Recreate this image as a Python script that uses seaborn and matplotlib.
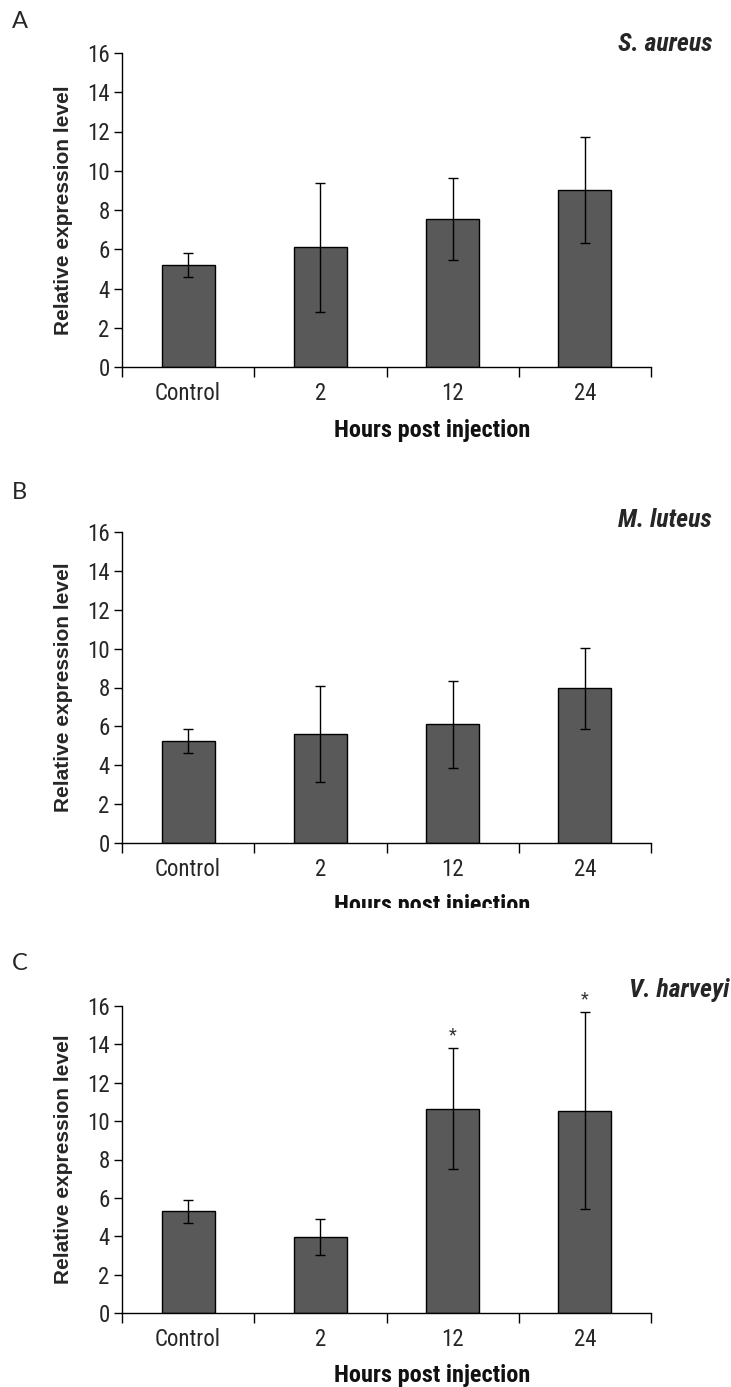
import numpy as np
import pandas as pd
import matplotlib
matplotlib.use("Agg")
import matplotlib.pyplot as plt
from matplotlib import font_manager as fm
import seaborn as sns
from matplotlib.patches import Rectangle

# ---------------- data ----------------
categories = ["Control", "2", "12", "24"]
sa_mean = [5.2, 6.1, 7.55, 9.0]
sa_err = [0.6, 3.3, 2.1, 2.7]
ml_mean = [5.25, 5.6, 6.1, 7.95]
ml_err = [0.62, 2.47, 2.22, 2.1]
vh_mean = [5.3, 3.95, 10.65, 10.55]
vh_err = [0.6, 0.95, 3.15, 5.15]
vh_sig = ["", "", "*", "*"]
yticks = [0, 2, 4, 6, 8, 10, 12, 14, 16]
ylabel = "Relative expression level"
xlabel = "Hours post injection"

sns.set_style("ticks")

# choose a narrow (Arial Narrow-like) face if one is installed
available = {f.name for f in fm.fontManager.ttflist}
narrow_family = None
for cand in ["Liberation Sans Narrow", "Arial Narrow", "Roboto Condensed",
             "DejaVu Sans Condensed", "Open Sans Condensed", "Noto Sans Condensed"]:
    if cand in available:
        narrow_family = cand
        break
if narrow_family is None:
    narrow_family = "DejaVu Sans"
NARROW = [narrow_family, "DejaVu Sans"]
STRETCH = "condensed"
plt.rcParams["font.family"] = NARROW
plt.rcParams["font.stretch"] = STRETCH
LETTER_FAMILY = ["Lato", "Open Sans", "DejaVu Sans"]

W, H = 731, 1387
fig = plt.figure(figsize=(W / 100, H / 100), dpi=100)
fig.patch.set_facecolor("white")


def px_axes(left, top, right, bottom):
    return fig.add_axes([left / W, 1 - bottom / H, (right - left) / W, (bottom - top) / H])


panels = [
    dict(letter="A", title="S. aureus", mean=sa_mean, err=sa_err, sig=None,
         box=(122, 53, 651, 367), letter_y=21, title_y=44, title_x=712),
    dict(letter="B", title="M. luteus", mean=ml_mean, err=ml_err, sig=None,
         box=(122, 532, 651, 843), letter_y=493, title_y=520, title_x=712),
    dict(letter="C", title="V. harveyi", mean=vh_mean, err=vh_err, sig=vh_sig,
         box=(122, 1006, 651, 1313), letter_y=963, title_y=990, title_x=729),
]

for p in panels:
    ax = px_axes(*p["box"])
    df = pd.DataFrame({"cat": categories, "val": p["mean"]})
    sns.barplot(data=df, x="cat", y="val", order=categories, color="#595959",
                saturation=1, edgecolor="black", linewidth=1.0, width=0.4,
                errorbar=None, ax=ax, zorder=2)
    xs = np.arange(len(categories))
    ax.errorbar(xs, p["mean"], yerr=p["err"], fmt="none", ecolor="black",
                elinewidth=1.0, capsize=3.8, capthick=1.0, zorder=3)
    if p["sig"] is not None:
        for x, m, e, s in zip(xs, p["mean"], p["err"], p["sig"]):
            if s:
                ax.text(x, m + e + 0.2, s, ha="center", va="bottom", fontsize=13,
                        color="#333333", clip_on=False, family=NARROW)

    ax.set_xlim(-0.5, len(categories) - 0.5)
    ax.set_ylim(0, 16)
    ax.set_yticks(yticks)
    ax.set_yticklabels([str(t) for t in yticks])
    ax.set_xticks(xs)
    ax.set_xticklabels(categories)
    ax.set_xticks(np.arange(len(categories) + 1) - 0.5, minor=True)
    ax.tick_params(axis="x", which="major", length=0, pad=11, labelsize=16.5, colors="#262626")
    ax.tick_params(axis="x", which="minor", length=7, width=1, direction="out", color="black")
    ax.tick_params(axis="y", which="major", length=6, width=1, direction="out",
                   pad=3, labelsize=16.5, color="black", labelcolor="#262626")
    for lab in ax.get_xticklabels() + ax.get_yticklabels():
        lab.set_fontstretch(STRETCH)
    for s in ["top", "right"]:
        ax.spines[s].set_visible(False)
    for s in ["left", "bottom"]:
        ax.spines[s].set_color("black")
        ax.spines[s].set_linewidth(1.0)

    ax.set_ylabel(ylabel, fontsize=15, fontweight="bold",
                  family=["Liberation Sans", "DejaVu Sans"], fontstretch="normal")
    ax.yaxis.set_label_coords(-0.092, 0.5)
    ax.set_xlabel(xlabel, fontsize=17.5, fontweight="bold", family=NARROW,
                  fontstretch=STRETCH, color="#111111")
    ax.xaxis.set_label_coords(0.586, -0.165)
    ax.grid(False)

    fig.text(12 / W, 1 - p["letter_y"] / H, p["letter"], fontsize=17,
             ha="left", va="center", family=LETTER_FAMILY, fontstretch="normal")
    fig.text(p["title_x"] / W, 1 - p["title_y"] / H, p["title"], fontsize=18.5,
             ha="right", va="center", fontstyle="italic", fontweight="bold",
             family=NARROW, fontstretch=STRETCH)

# the B panel's axis title is cut off in the original figure
fig.add_artist(Rectangle((250 / W, 1 - 935 / H), 420 / W, 27 / H,
                         transform=fig.transFigure, facecolor="white",
                         edgecolor="none", zorder=10))

fig.savefig("out.png", dpi=100, facecolor="white")
